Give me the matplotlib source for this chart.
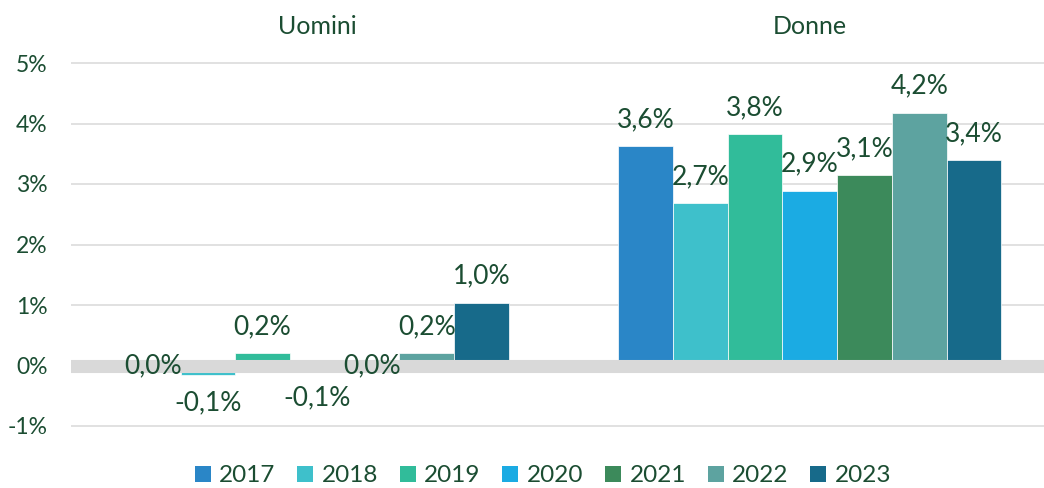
import numpy as np
import matplotlib
matplotlib.use('Agg')
import matplotlib.pyplot as plt
from matplotlib.patches import Patch

plt.rcParams['font.family'] = ['Lato', 'DejaVu Sans']

groups = ['Uomini', 'Donne']
years = ['2017', '2018', '2019', '2020', '2021', '2022', '2023']
uomini = [0.0, -0.15, 0.2, -0.08, 0.0, 0.2, 1.04]
donne = [3.63, 2.69, 3.82, 2.89, 3.15, 4.18, 3.40]
colors = ['#2A86C7', '#3EC0CB', '#31BC9A', '#1BABE3', '#3C8A5B', '#5DA3A0', '#176A8A']
y_ticks = [-1, 0, 1, 2, 3, 4, 5]

text_col = '#1B4D32'
grid_col = '#D9D9D9'

fig = plt.figure(figsize=(10.44, 4.88), dpi=100)
ax = fig.add_axes([71 / 1044, 1 - 432 / 488, 973 / 1044, 372 / 488])

values = np.array([uomini, donne])
bw = 54.7 / 492.5
x = np.arange(len(groups))
n = len(years)

for i, yr in enumerate(years):
    xs = x + (i - (n - 1) / 2) * bw
    ax.bar(xs, values[:, i], width=bw, color=colors[i], edgecolor='white',
           linewidth=0.5, zorder=2)
    for xx, v in zip(xs, values[:, i]):
        lab = f'{v:.1f}%'.replace('.', ',')
        if abs(v) < 0.005:
            off = 0
        elif v > 0:
            off = 19
        else:
            off = -20
        ax.annotate(lab, (xx, v), xytext=(0, off), textcoords='offset points',
                    ha='center', va='center', fontsize=19, color=text_col, zorder=5)

# thick grey zero line like the Excel category axis
ax.axhline(0, color=grid_col, linewidth=9.4, zorder=3)

ax.set_xlim(-0.5, -0.5 + 973 / 492.5)
ax.set_ylim(-(432 - 365.5) / 60.5, (365.5 - 60) / 60.5)
ax.set_yticks(y_ticks)
ax.set_yticklabels([f'{t}%' for t in y_ticks])
ax.yaxis.grid(True, color=grid_col, linewidth=1.1, zorder=0)
ax.tick_params(axis='y', length=0, pad=17, labelsize=16.5, labelcolor=text_col)

ax.xaxis.tick_top()
ax.set_xticks(x)
ax.set_xticklabels(groups)
ax.tick_params(axis='x', length=0, pad=16, labelsize=18, labelcolor=text_col)

for s in ax.spines.values():
    s.set_visible(False)

handles = [Patch(facecolor=c, edgecolor='none') for c in colors]
fig.legend(handles, years, loc='center', bbox_to_anchor=(543 / 1044, 1 - 476 / 488),
           ncol=n, frameon=False, fontsize=17.5, labelcolor=text_col,
           handlelength=0.65, handleheight=0.65, handletextpad=0.35,
           columnspacing=0.9, borderpad=0)

fig.savefig('out.png', dpi=100)
